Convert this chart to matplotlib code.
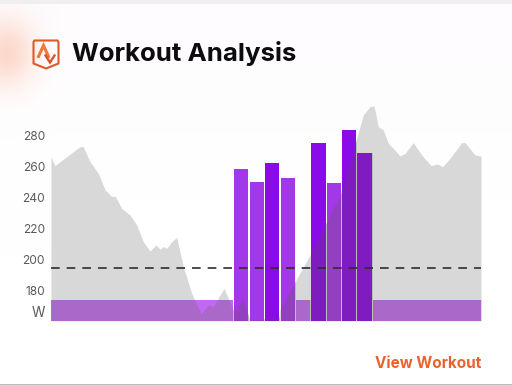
import numpy as np
import matplotlib
matplotlib.use("Agg")
import matplotlib.pyplot as plt
from matplotlib.patches import Polygon, Rectangle

W, H = 512, 385
LEFT, RIGHT, BOTTOM, TOP = 51, 481.3, 320.7, 100

# Power profile behind the intervals
profile_t = [0, 4, 29, 32.3, 39, 47.3, 54, 60.7, 64, 70.7, 79, 85.7, 92.3, 99, 105, 109, 112.3, 115.7,
             120.7, 125.7, 132.3, 140.7, 150, 157.3, 162.3, 173, 182.3, 186, 192, 199, 228, 229, 242.3,
             259, 289, 305.7, 312.3, 319, 323, 327.3, 332.3, 337.3, 342.3, 349, 354, 362.3, 370.7,
             380, 386.3, 391.7, 399, 410.7, 414, 424, 430]
profile_w = [266.2, 260.9, 273.1, 273.1, 263.4, 255.9, 245.2, 240.9, 241.3, 233.3, 229, 222.6, 211.8,
             205.8, 209.7, 206.9, 208.6, 207.5, 211.8, 214.6, 195.7, 178.5, 165.2, 171, 169.9, 181.7,
             167.7, 168, 174.5, 161, 163, 168.8, 183.9, 203.2, 241.9, 278.5, 293.5, 298.9, 299.4, 286,
             283.9, 275.3, 272, 267.1, 268.8, 275.7, 267.7, 260.9, 261.9, 260.2, 265.6, 275.7, 275.7,
             267.7, 267.1]

# Workout intervals
interval_start = [0, 183.3, 198.7, 214, 229.7, 244.7, 260.3, 276, 291, 306.3, 322.3]
interval_len = [181.7, 14, 14, 14, 14, 14.3, 14.4, 13.7, 14.3, 14.4, 108]
interval_w = [174.2, 258.9, 250.1, 262.8, 253.1, 174.2, 275.7, 249.7, 283.7, 269, 174.2]
interval_color = ["#C06AF4", "#A238E8", "#A238E8", "#8A0BE8", "#A238E8", "#C06AF4",
                  "#8A0BE8", "#A238E8", "#8A0BE8", "#8A0BE8", "#C06AF4"]

threshold = 194.6
tick_values = [280, 260, 240, 220, 200, 180, 167]
tick_labels = ["280", "260", "240", "220", "200", "180", "W"]
base_w = 160.8

fig = plt.figure(figsize=(W / 100, H / 100), dpi=100)

# Background layer in pixel coordinates
bg = fig.add_axes([0, 0, 1, 1])
bg.set_xlim(0, W)
bg.set_ylim(H, 0)
bg.axis("off")
yy, xx = np.mgrid[0:H, 0:W]
glow = np.exp(-(((xx - 6) / 28.0) ** 2 + ((yy - 52) / 34.0) ** 2))
tint = np.clip(1 - (yy / 200.0), 0, 1)[..., None] * np.array([1, 3, 1]) / 255.0
img = np.ones((H, W, 3)) - tint
peach = np.array([252, 217, 203]) / 255.0
img = img * (1 - glow[..., None]) + peach * glow[..., None]
bg.imshow(img, extent=(0, W, H, 0), aspect="auto", interpolation="bilinear", zorder=0)
bg.set_xlim(0, W)
bg.set_ylim(H, 0)
bg.add_patch(Rectangle((0, 0), W, 4, color="#EFEFEF", lw=0, zorder=1))
bg.add_patch(Rectangle((0, 384), W, 1, color="#BDBDBD", lw=0, zorder=1))

# Logo
shield = [(34.5, 40.5), (57.5, 40.5), (58.5, 42), (58.5, 63.5), (46, 68.5), (33.5, 63.5), (33.5, 42)]
bg.add_patch(Polygon(shield, closed=True, fill=False, ec="#DC5A28", lw=1.5, joinstyle="round", zorder=2))
bg.plot([38.5, 43.5, 48.5], [56.5, 45.5, 56.5], color="#EE7A38", lw=2.2, zorder=2, solid_joinstyle="miter")
bg.plot([45.5, 50, 54.5], [55.5, 62.5, 55.5], color="#D9542A", lw=1.7, zorder=2, solid_joinstyle="miter")

bg.text(72, 54, "Workout Analysis", fontfamily="Inter", fontweight="bold", fontsize=18.6,
        color="#0C0C0E", va="center", ha="left", zorder=3)
bg.text(481, 364, "View Workout", fontfamily="Inter", fontweight="bold", fontsize=11,
        color="#E8622C", va="center", ha="right", zorder=3)

# Chart
ax = fig.add_axes([LEFT / W, 1 - BOTTOM / H, (RIGHT - LEFT) / W, (BOTTOM - TOP) / H])
ax.patch.set_alpha(0)
ax.set_xlim(0, RIGHT - LEFT)
ax.set_ylim(base_w, 303.2)
for s in ax.spines.values():
    s.set_visible(False)
ax.set_xticks([])
ax.set_yticks(tick_values)
ax.set_yticklabels(tick_labels, fontfamily="Inter", fontsize=8.6, color="#5A5A5A")
ax.tick_params(axis="y", length=0, pad=4.3)
ax.get_yticklabels()[-1].set_fontsize(9.8)

ax.fill_between(profile_t, base_w, profile_w, color="#D8D8D8", lw=0, zorder=1)
bars = ax.bar(interval_start, np.array(interval_w) - base_w, bottom=base_w, width=interval_len,
              align="edge", color=interval_color, lw=0, zorder=2)
# Profile blended through each bar
for b in bars:
    shade = ax.fill_between(profile_t, base_w, profile_w, color="#55641C", alpha=0.2, lw=0, zorder=3)
    shade.set_clip_path(b)
ax.axhline(threshold, color="#2E2E2E", lw=1.2, dashes=(5.2, 4.2), zorder=4)

fig.savefig("out.png", dpi=100)
